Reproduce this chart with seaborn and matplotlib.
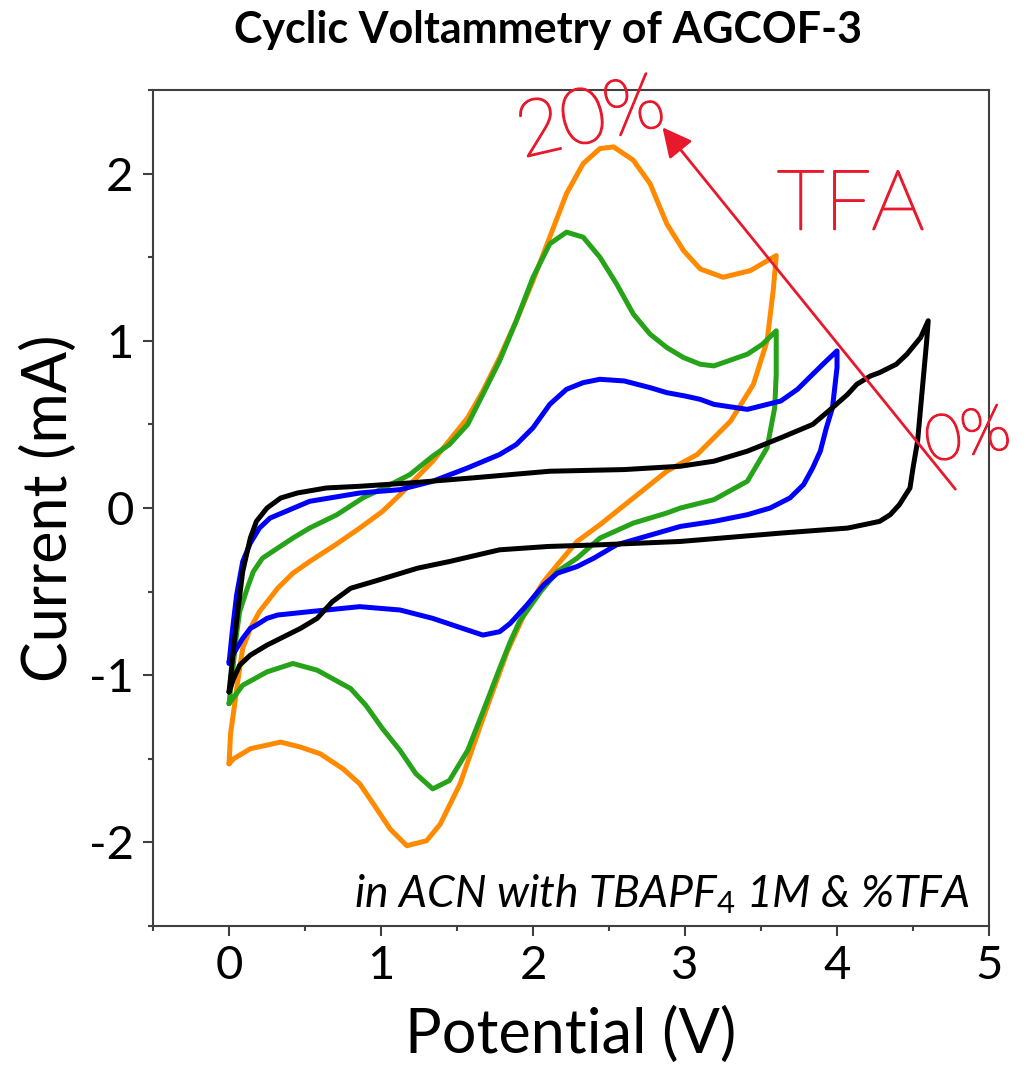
import numpy as np
import pandas as pd
import seaborn as sns
import matplotlib.pyplot as plt
import matplotlib.patheffects as pe
from matplotlib.ticker import MultipleLocator

# CV loops: forward scan (0 V -> vertex) then reverse scan back to 0 V
# 0% TFA
black_v_fwd = [0, 0.03, 0.06, 0.09, 0.14, 0.18, 0.25, 0.34, 0.45, 0.64, 0.86, 1.19, 1.6, 2.11, 2.6, 2.97, 3.19, 3.41, 3.63, 3.84, 3.97, 4.07, 4.13, 4.22, 4.28, 4.39, 4.46, 4.55, 4.6]
black_i_fwd = [-1.10, -0.84, -0.60, -0.38, -0.18, -0.08, 0.0, 0.06, 0.09, 0.12, 0.13, 0.15, 0.18, 0.22, 0.23, 0.25, 0.28, 0.34, 0.42, 0.50, 0.60, 0.68, 0.74, 0.79, 0.81, 0.86, 0.92, 1.02, 1.12]
black_v_rev = [4.59, 4.57, 4.55, 4.53, 4.5, 4.48, 4.41, 4.35, 4.28, 4.07, 3.63, 2.97, 2.44, 2.1, 1.78, 1.45, 1.24, 0.95, 0.8, 0.68, 0.58, 0.47, 0.36, 0.25, 0.14, 0.07, 0.03, 0]
black_i_rev = [1.0, 0.80, 0.60, 0.40, 0.24, 0.12, 0.02, -0.04, -0.08, -0.12, -0.15, -0.20, -0.22, -0.23, -0.25, -0.32, -0.36, -0.44, -0.48, -0.56, -0.66, -0.72, -0.77, -0.82, -0.88, -0.94, -1.02, -1.10]

# low TFA
blue_v_fwd = [0, 0.02, 0.05, 0.09, 0.14, 0.2, 0.27, 0.4, 0.53, 0.86, 1.125, 1.34, 1.57, 1.78, 1.89, 2.0, 2.11, 2.22, 2.33, 2.44, 2.6, 2.77, 2.88, 3.0, 3.1, 3.19, 3.41, 3.63, 3.74, 3.84, 3.93, 4.0]
blue_i_fwd = [-0.93, -0.75, -0.52, -0.32, -0.21, -0.12, -0.06, -0.01, 0.04, 0.09, 0.11, 0.16, 0.24, 0.32, 0.38, 0.48, 0.62, 0.71, 0.75, 0.77, 0.76, 0.72, 0.69, 0.67, 0.65, 0.62, 0.59, 0.64, 0.71, 0.80, 0.88, 0.94]
blue_v_rev = [4.0, 3.99, 3.97, 3.93, 3.89, 3.84, 3.78, 3.69, 3.56, 3.41, 3.19, 2.97, 2.55, 2.4, 2.29, 2.16, 2.07, 1.96, 1.85, 1.78, 1.67, 1.57, 1.34, 1.125, 0.86, 0.53, 0.32, 0.25, 0.18, 0.14, 0.09, 0.05, 0]
blue_i_rev = [0.84, 0.76, 0.60, 0.48, 0.34, 0.24, 0.14, 0.06, 0.0, -0.04, -0.08, -0.11, -0.22, -0.30, -0.35, -0.39, -0.46, -0.58, -0.69, -0.74, -0.76, -0.73, -0.66, -0.61, -0.59, -0.62, -0.64, -0.66, -0.70, -0.72, -0.78, -0.84, -0.92]

# mid TFA
green_v_fwd = [0, 0.03, 0.05, 0.07, 0.12, 0.16, 0.22, 0.32, 0.42, 0.53, 0.71, 0.88, 1.04, 1.19, 1.34, 1.45, 1.57, 1.67, 1.78, 1.89, 2.0, 2.11, 2.22, 2.33, 2.44, 2.55, 2.66, 2.77, 2.88, 2.99, 3.1, 3.19, 3.41, 3.51, 3.6]
green_i_fwd = [-1.17, -0.92, -0.75, -0.62, -0.48, -0.38, -0.30, -0.24, -0.18, -0.12, -0.04, 0.06, 0.13, 0.20, 0.31, 0.38, 0.50, 0.68, 0.88, 1.12, 1.38, 1.58, 1.65, 1.62, 1.50, 1.34, 1.16, 1.04, 0.96, 0.90, 0.86, 0.85, 0.92, 0.98, 1.06]
green_v_rev = [3.6, 3.59, 3.54, 3.41, 3.19, 2.97, 2.88, 2.66, 2.44, 2.29, 2.16, 2.05, 1.91, 1.85, 1.78, 1.67, 1.57, 1.45, 1.34, 1.23, 1.125, 1.01, 0.9, 0.8, 0.68, 0.58, 0.42, 0.25, 0.09, 0]
green_i_rev = [0.80, 0.60, 0.36, 0.16, 0.05, 0.0, -0.03, -0.09, -0.18, -0.30, -0.38, -0.50, -0.68, -0.80, -0.96, -1.22, -1.45, -1.63, -1.68, -1.59, -1.45, -1.32, -1.18, -1.08, -1.02, -0.97, -0.93, -0.98, -1.06, -1.17]

# 20% TFA
orange_v_fwd = [0, 0.01, 0.03, 0.06, 0.09, 0.14, 0.2, 0.32, 0.42, 0.53, 0.7, 0.86, 1.01, 1.125, 1.34, 1.57, 1.67, 1.78, 1.89, 2.0, 2.11, 2.22, 2.33, 2.44, 2.53, 2.66, 2.77, 2.88, 2.99, 3.1, 3.25, 3.43, 3.6]
orange_i_fwd = [-1.53, -1.35, -1.22, -1.02, -0.84, -0.72, -0.62, -0.48, -0.39, -0.32, -0.22, -0.12, -0.02, 0.08, 0.28, 0.54, 0.70, 0.90, 1.12, 1.36, 1.62, 1.88, 2.06, 2.15, 2.16, 2.08, 1.94, 1.70, 1.54, 1.43, 1.38, 1.42, 1.51]
orange_v_rev = [3.58, 3.54, 3.45, 3.3, 3.08, 2.88, 2.66, 2.44, 2.29, 2.16, 2.07, 1.96, 1.83, 1.67, 1.52, 1.39, 1.30, 1.17, 1.06, 0.95, 0.86, 0.75, 0.6, 0.47, 0.34, 0.14, 0.03, 0]
orange_i_rev = [1.30, 1.0, 0.74, 0.52, 0.32, 0.22, 0.06, -0.10, -0.20, -0.34, -0.44, -0.60, -0.86, -1.26, -1.65, -1.89, -1.99, -2.02, -1.92, -1.77, -1.65, -1.56, -1.47, -1.43, -1.40, -1.44, -1.50, -1.53]

series = [
    ("20%", orange_v_fwd + orange_v_rev, orange_i_fwd + orange_i_rev, "#ff8a00"),
    ("10%", green_v_fwd + green_v_rev, green_i_fwd + green_i_rev, "#26a318"),
    ("5%", blue_v_fwd + blue_v_rev, blue_i_fwd + blue_i_rev, "#0000ff"),
    ("0%", black_v_fwd + black_v_rev, black_i_fwd + black_i_rev, "#000000"),
]

frames = []
for name, v, i, _ in series:
    d = pd.DataFrame({"Potential": v, "Current": i})
    d["TFA"] = name
    frames.append(d)
df = pd.concat(frames, ignore_index=True)
palette = {name: c for name, _, _, c in series}

sns.set_style("ticks")
plt.rcParams["font.family"] = ["Lato", "DejaVu Sans"]
plt.rcParams["mathtext.fontset"] = "custom"
plt.rcParams["mathtext.rm"] = "Lato"
plt.rcParams["mathtext.it"] = "Lato:italic"
plt.rcParams["axes.unicode_minus"] = False
plt.rcParams["text.color"] = "black"
plt.rcParams["axes.labelcolor"] = "black"

fig = plt.figure(figsize=(10.25, 10.81), dpi=100)
ax = fig.add_axes([0.1493, 0.1434, 0.8156, 0.7733])

sns.lineplot(data=df, x="Potential", y="Current", hue="TFA", palette=palette,
             sort=False, estimator=None, units="TFA", lw=3.6, legend=False, ax=ax)
for line in ax.lines:
    line.set_solid_joinstyle("round")
    line.set_solid_capstyle("round")

ax.set_xlim(-0.5, 5)
ax.set_ylim(-2.5, 2.5)
ax.xaxis.set_major_locator(MultipleLocator(1))
ax.xaxis.set_minor_locator(MultipleLocator(0.5))
ax.yaxis.set_major_locator(MultipleLocator(1))
ax.yaxis.set_minor_locator(MultipleLocator(0.5))
ax.tick_params(which="both", direction="out", width=1.5, color="#404040",
               labelcolor="black", top=False, right=False)
ax.tick_params(which="major", length=7, labelsize=34, pad=7)
ax.tick_params(which="minor", length=3.6)
for s in ax.spines.values():
    s.set_linewidth(1.5)
    s.set_color("#404040")

ax.set_xlabel("Potential (V)", fontsize=44, labelpad=14)
ax.set_ylabel("Current (mA)", fontsize=44, labelpad=8)
fig.text(0.535, 0.972, "Cyclic Voltammetry of AGCOF-3", ha="center", va="center",
         fontsize=31, fontweight="bold")

ax.text(4.87, -2.31, r"in ACN with TBAPF$_\mathit{4}$ 1M & %TFA", ha="right", va="center",
        fontsize=32, style="italic")

# hand-drawn red annotation
red = "#e8192c"
thick = [pe.withStroke(linewidth=1.4, foreground=red)]
ax.annotate("", xy=(2.84, 2.29), xytext=(4.79, 0.10),
            arrowprops=dict(arrowstyle="-|>", color=red, lw=2, mutation_scale=45),
            annotation_clip=False)
ax.text(2.38, 2.32, "20%", color=red, fontsize=56, fontweight="light",
        rotation=13, ha="center", va="center", clip_on=False, path_effects=thick)
ax.text(4.09, 1.80, "TFA", color=red, fontsize=60, fontweight="light",
        ha="center", va="center", clip_on=False, path_effects=thick)
ax.text(4.86, 0.42, "0%", color=red, fontsize=46, fontweight="light",
        rotation=10, ha="center", va="center", clip_on=False, path_effects=thick)

fig.savefig("out.png", dpi=100)
